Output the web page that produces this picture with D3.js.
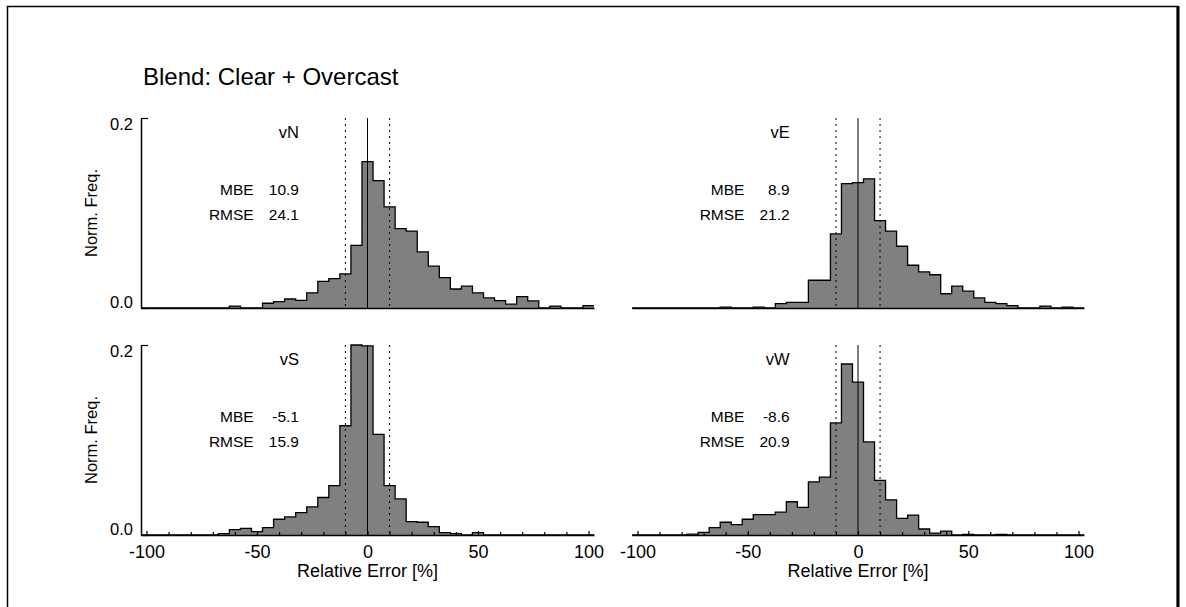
<!DOCTYPE html>
<html>
<head>
<meta charset="utf-8" />
<title>Blend: Clear + Overcast</title>
<style>
  body { margin: 0; background: #fff; }
  svg { display: block; font-family: "Liberation Sans", Arial, Helvetica, sans-serif; }
</style>
</head>
<body>
<svg width="1186" height="607"></svg>
<script src="https://d3js.org/d3.v7.min.js"></script>
<script>

// bin centres of the histograms (5 % wide bins)
var binCenters = [-100, -95, -90, -85, -80, -75, -70, -65, -60, -55, -50, -45, -40, -35, -30, -25, -20,
    -15, -10, -5, 0, 5, 10, 15, 20, 25, 30, 35, 40, 45, 50, 55, 60, 65, 70, 75, 80, 85, 90, 95, 100];

var freqN = [0, 0, 0, 0, 0, 0, 0, 0, 0.002, 0, 0, 0.005, 0.0067, 0.0095, 0.008, 0.016, 0.028,
    0.031, 0.036, 0.066, 0.154, 0.134, 0.1065, 0.0836, 0.081, 0.059, 0.044, 0.032, 0.020, 0.023, 0.016,
    0.0106, 0.0078, 0.004, 0.012, 0.0074, 0, 0.002, 0, 0, 0.0025];

var freqE = [0, 0, 0, 0, 0, 0, 0, 0, 0.001, 0, 0, 0.001, 0, 0.0046, 0.006, 0.006, 0.0292,
    0.0292, 0.078, 0.131, 0.132, 0.136, 0.092, 0.081, 0.065, 0.045, 0.038, 0.035, 0.015, 0.023, 0.0177,
    0.0106, 0.006, 0.0046, 0.0025, 0, 0, 0.002, 0, 0.001, 0];

var freqS = [0, 0, 0, 0, 0, 0, 0, 0.0014, 0.0056, 0.007, 0.0035, 0.0078, 0.0166, 0.019, 0.0236, 0.0296, 0.0395,
    0.052, 0.115, 0.2, 0.199, 0.106, 0.052, 0.038, 0.0141, 0.0134, 0.0088, 0.0025, 0.0014, 0, 0.0025,
    0, 0, 0, 0, 0, 0, 0, 0, 0, 0];

var freqW = [0, 0, 0, 0, 0, 0.001, 0.0028, 0.0078, 0.0134, 0.011, 0.0166, 0.0215, 0.0215, 0.024, 0.035, 0.029, 0.056,
    0.061, 0.118, 0.18, 0.161, 0.098, 0.0575, 0.037, 0.0176, 0.021, 0.0063, 0.002, 0.004, 0, 0.0007,
    0, 0, 0.0007, 0, 0, 0, 0, 0, 0, 0];

var panelNames = ['vN', 'vE', 'vS', 'vW'];
var mbeValues = [10.9, 8.9, -5.1, -8.6];
var rmseValues = [24.1, 21.2, 15.9, 20.9];
var xTickValues = [-100, -50, 0, 50, 100];
var xMinorTicks = [-90, -80, -70, -60, -40, -30, -20, -10, 10, 20, 30, 40, 60, 70, 80, 90];
var yTickValues = [0.0, 0.2];
var refLines = [-10, 10];

var series = [freqN, freqE, freqS, freqW];

var svg = d3.select('svg');

// page frame
svg.append('rect')
    .attr('x', 7.5).attr('y', 6.5)
    .attr('width', 1170).attr('height', 620)
    .attr('fill', 'none').attr('stroke', '#000').attr('stroke-width', 1.5);
svg.append('line')
    .attr('x1', 1178).attr('x2', 1178).attr('y1', 6).attr('y2', 607)
    .attr('stroke', '#000').attr('stroke-width', 3);

svg.append('text')
    .attr('x', 143).attr('y', 85)
    .attr('font-size', 24)
    .text('Blend: Clear + Overcast');

var columns = [[141, 594], [632, 1084]];
var rows = [[308, 118], [535, 345]];

// plain hyphen for negatives, as in the original
var fmt1 = function (d) { return d.toFixed(1); };
var fmt0 = function (d) { return String(d); };

series.forEach(function (values, i) {
    var col = i % 2, row = Math.floor(i / 2);
    var x = d3.scaleLinear().domain([-102.5, 102.5]).range(columns[col]);
    var y = d3.scaleLinear().domain([0, 0.2]).range(rows[row]);
    var g = svg.append('g');

    var pts = binCenters.map(function (c, k) {
        return { x: c - 2.5, v: values[k] };
    });
    pts.push({ x: binCenters[binCenters.length - 1] + 2.5, v: values[values.length - 1] });

    var area = d3.area()
        .x(function (d) { return x(d.x); })
        .y0(y(0))
        .y1(function (d) { return y(d.v); })
        .curve(d3.curveStepAfter);
    var line = d3.line()
        .x(function (d) { return x(d.x); })
        .y(function (d) { return y(d.v); })
        .curve(d3.curveStepAfter);

    g.append('path').attr('d', area(pts)).attr('fill', '#808080');
    g.append('path').attr('d', line(pts))
        .attr('fill', 'none').attr('stroke', '#000').attr('stroke-width', 1.3);

    // reference lines
    g.append('line')
        .attr('x1', x(0)).attr('x2', x(0))
        .attr('y1', y(0.2)).attr('y2', y(0))
        .attr('stroke', '#000').attr('stroke-width', 1);
    g.selectAll('.ref').data(refLines).enter().append('line')
        .attr('x1', function (d) { return x(d); })
        .attr('x2', function (d) { return x(d); })
        .attr('y1', y(0.2)).attr('y2', y(0))
        .attr('stroke', '#000').attr('stroke-width', 1)
        .attr('stroke-dasharray', '2,4');

    // x axis
    var xAxis = g.append('g').attr('transform', 'translate(0,' + y(0) + ')');
    if (row === 1) {
        xAxis.call(d3.axisBottom(x).tickValues(xTickValues).tickSize(-4).tickSizeOuter(0)
            .tickPadding(10).tickFormat(fmt0));
        var minor = g.append('g').attr('transform', 'translate(0,' + y(0) + ')')
            .call(d3.axisBottom(x).tickValues(xMinorTicks).tickSize(-3).tickSizeOuter(0).tickFormat(''));
        minor.select('.domain').remove();
        g.append('text')
            .attr('x', x(0)).attr('y', 577)
            .attr('text-anchor', 'middle').attr('font-size', 18)
            .text('Relative Error [%]');
    } else {
        xAxis.call(d3.axisBottom(x).tickValues([]).tickSizeOuter(0));
    }
    g.selectAll('.tick line').attr('stroke-width', 1.2);
    xAxis.select('.domain').attr('stroke-width', 1.5);
    xAxis.selectAll('text').attr('font-size', 18).attr('font-family', null).attr('fill', '#000');

    // y axis, left column only
    if (col === 0) {
        var yAxis = g.append('g').attr('transform', 'translate(' + columns[0][0] + ',0)')
            .call(d3.axisLeft(y).tickValues(yTickValues).tickSize(-7).tickSizeOuter(0)
                .tickPadding(8).tickFormat(fmt1));
        yAxis.select('.domain').attr('stroke-width', 1.5);
        yAxis.selectAll('.tick line').attr('stroke-width', 1.2);
        yAxis.selectAll('text')
            .attr('font-size', 16.5).attr('font-family', null).attr('fill', '#000')
            .attr('dy', function (d) { return d > 0 ? '0.72em' : '-0.05em'; });
        g.append('text')
            .attr('transform', 'translate(91,' + ((rows[row][0] + rows[row][1]) / 2) + ') rotate(-90)')
            .attr('text-anchor', 'middle').attr('dy', '0.35em').attr('font-size', 16.5)
            .text('Norm. Freq.');
    }

    // panel annotations
    var top = y(0.2);
    g.append('text').attr('x', x(-31)).attr('y', top + 20)
        .attr('text-anchor', 'end').attr('font-size', 16.5).text(panelNames[i]);
    g.append('text').attr('x', x(-51.5)).attr('y', top + 77)
        .attr('text-anchor', 'end').attr('font-size', 15.5).text('MBE');
    g.append('text').attr('x', x(-31)).attr('y', top + 77)
        .attr('text-anchor', 'end').attr('font-size', 15.5).text(fmt1(mbeValues[i]));
    g.append('text').attr('x', x(-51.5)).attr('y', top + 102)
        .attr('text-anchor', 'end').attr('font-size', 15.5).text('RMSE');
    g.append('text').attr('x', x(-31)).attr('y', top + 102)
        .attr('text-anchor', 'end').attr('font-size', 15.5).text(fmt1(rmseValues[i]));
});
</script>
</body>
</html>
